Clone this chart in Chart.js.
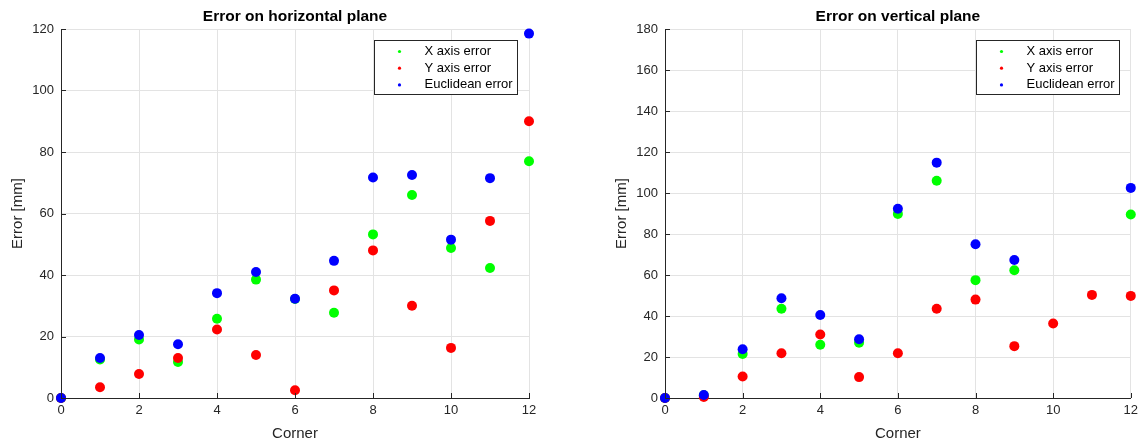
<!DOCTYPE html>
<html>
<head>
<meta charset="utf-8">
<script src="https://cdn.jsdelivr.net/npm/chart.js@4.4.1/dist/chart.umd.min.js"></script>
<style>
  html, body { margin: 0; padding: 0; background: #fff; }
  .wrap { position: absolute; top: 0; height: 443px; }
  #leftWrap { left: 0; width: 571px; }
  #rightWrap { left: 571px; width: 572px; }
</style>
</head>
<body>
<div class="wrap" id="leftWrap"><canvas id="chartH" width="571" height="443"></canvas></div>
<div class="wrap" id="rightWrap"><canvas id="chartV" width="572" height="443"></canvas></div>
<script>
// Datos (error en mm por esquina)
const corners = [0, 1, 2, 3, 4, 5, 6, 7, 8, 9, 10, 11, 12];

const horizX = [0, 12.5, 19.0, 11.7, 25.8, 38.5, 32.2, 27.7, 53.2, 66.0, 48.8, 42.3, 77.0];
const horizY = [0, 3.5, 7.8, 13.0, 22.3, 14.0, 2.5, 35.0, 48.0, 30.0, 16.3, 57.6, 90.0];
const horizE = [0, 13.0, 20.5, 17.5, 34.1, 41.0, 32.3, 44.6, 71.7, 72.5, 51.5, 71.5, 118.5];

const vertX = [0, 1.3, 21.5, 43.5, 26.0, 27.0, 89.8, 106.0, 57.5, 62.3, null, null, 89.5];
const vertY = [0, 0.5, 10.5, 21.8, 31.0, 10.2, 21.8, 43.5, 48.0, 25.3, 36.3, 50.3, 49.8];
const vertE = [0, 1.5, 23.8, 48.7, 40.5, 28.7, 92.3, 114.8, 75.0, 67.3, null, null, 102.5];

const xTicks = [0, 2, 4, 6, 8, 10, 12];
const seriesLabels = ['X axis error', 'Y axis error', 'Euclidean error'];

const GREEN = '#00ff00', RED = '#ff0000', BLUE = '#0000ff';
const INK = '#262626', GRID = '#e3e3e3';
const FONT = "'Liberation Sans', Arial, Helvetica, sans-serif";

// Convierte una serie en puntos {x, y}
function toPoints(values) {
    return corners.map((c, i) => ({ x: c, y: values[i] }));
}

// Titulo centrado sobre el area de la grafica, leyenda dentro del area y ticks hacia adentro
const matlabLook = {
    id: 'matlabLook',
    afterDraw(chart, args, opts) {
        const ctx = chart.ctx;
        const a = chart.chartArea;
        ctx.save();
        // ticks hacia adentro
        ctx.strokeStyle = INK;
        ctx.lineWidth = 1;
        const xs = chart.scales.x, ys = chart.scales.y;
        ctx.beginPath();
        xs.ticks.forEach(t => {
            const px = Math.round(xs.getPixelForValue(t.value)) + 0.5;
            ctx.moveTo(px, a.bottom); ctx.lineTo(px, a.bottom - 5);
        });
        ys.ticks.forEach(t => {
            const py = Math.round(ys.getPixelForValue(t.value)) + 0.5;
            ctx.moveTo(a.left, py); ctx.lineTo(a.left + 5, py);
        });
        ctx.stroke();
        // titulo
        ctx.fillStyle = '#000';
        ctx.font = 'bold 15.5px ' + FONT;
        ctx.textAlign = 'center';
        ctx.textBaseline = 'middle';
        ctx.fillText(opts.title, (a.left + a.right) / 2, a.top - 12);
        // leyenda
        const w = 143, h = 54;
        const bx = Math.round(a.right - 12 - w) + 0.5, by = Math.round(a.top + 11) + 0.5;
        ctx.fillStyle = '#fff';
        ctx.fillRect(bx, by, w, h);
        ctx.strokeStyle = INK;
        ctx.strokeRect(bx, by, w, h);
        ctx.font = '13px ' + FONT;
        ctx.textAlign = 'left';
        chart.data.datasets.forEach((ds, i) => {
            const cy = by + 11 + i * 16.7;
            ctx.fillStyle = ds.backgroundColor;
            ctx.beginPath();
            ctx.arc(bx + 25, cy, 1.6, 0, Math.PI * 2);
            ctx.fill();
            ctx.fillStyle = '#000';
            ctx.fillText(ds.label, bx + 50, cy);
        });
        ctx.restore();
    }
};

function makeChart(canvasId, xv, yv, ev, yMax, title, padLeft, padRight, titlePad) {
    const mk = (label, values, color, order) => ({
        label, data: toPoints(values), backgroundColor: color, borderWidth: 0,
        pointRadius: 5, pointHoverRadius: 5, order, clip: false
    });
    return new Chart(document.getElementById(canvasId), {
        type: 'scatter',
        data: {
            datasets: [
                mk(seriesLabels[0], xv, GREEN, 3),
                mk(seriesLabels[1], yv, RED, 2),
                mk(seriesLabels[2], ev, BLUE, 1)
            ]
        },
        plugins: [matlabLook],
        options: {
            responsive: false,
            animation: false,
            layout: { padding: { top: 29, right: padRight, left: 0, bottom: 0 } },
            plugins: { legend: { display: false }, tooltip: { enabled: false }, matlabLook: { title } },
            scales: {
                x: {
                    type: 'linear', min: 0, max: 12,
                    afterBuildTicks: (s) => { s.ticks = xTicks.map(v => ({ value: v })); },
                    afterFit: (s) => { s.height = 45; },
                    grid: { color: GRID, drawTicks: false },
                    border: { color: INK, width: 1 },
                    ticks: { color: INK, font: { family: FONT, size: 13 }, padding: 5, maxRotation: 0 },
                    title: { display: true, text: 'Corner', color: INK, font: { family: FONT, size: 15 }, padding: { top: 0, bottom: 0 } }
                },
                y: {
                    min: 0, max: yMax,
                    afterFit: (s) => { s.width = padLeft; },
                    grid: { color: GRID, drawTicks: false },
                    border: { color: INK, width: 1 },
                    ticks: { color: INK, font: { family: FONT, size: 13 }, padding: 7, stepSize: 20 },
                    title: { display: true, text: 'Error [mm]', color: INK, font: { family: FONT, size: 15 }, padding: { top: titlePad, bottom: 0 } }
                }
            }
        }
    });
}

makeChart('chartH', horizX, horizY, horizE, 120, 'Error on horizontal plane', 61, 42, 9);
makeChart('chartV', vertX, vertY, vertE, 180, 'Error on vertical plane', 94, 9, 42);
</script>
</body>
</html>
